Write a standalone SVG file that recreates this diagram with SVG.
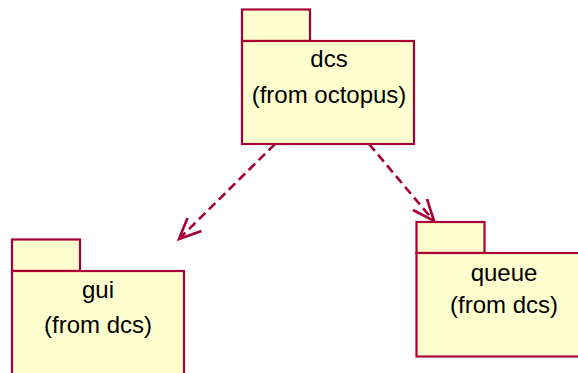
<svg xmlns="http://www.w3.org/2000/svg" width="578" height="373" viewBox="0 0 578 373">
  <style>
    .pkg { fill: #fefece; stroke: #a80036; stroke-width: 2.2; }
    .sep { stroke: #a80036; stroke-width: 1; fill: none; }
    .lbl { font-family: "Liberation Sans", Arial, sans-serif; font-size: 24px; fill: #000; text-anchor: middle; }
    .dep { stroke: #a80036; stroke-width: 2.6; fill: none; stroke-dasharray: 9 5; }
    .head { stroke: #a80036; stroke-width: 2.6; fill: none; stroke-linejoin: miter; }
  </style>
  <rect width="578" height="373" fill="#ffffff"/>

  <!-- package: dcs -->
  <g id="dcs">
    <rect class="pkg" x="242" y="9.5" width="68" height="31.5"/>
    <rect class="pkg" x="242" y="41" width="172" height="103"/>
    <line class="sep" x1="242" y1="41" x2="310" y2="41"/>
    <text class="lbl" x="329" y="66.5">dcs</text>
    <text class="lbl" x="329" y="103">(from octopus)</text>
  </g>

  <!-- package: gui -->
  <g id="gui">
    <rect class="pkg" x="12" y="239.5" width="68" height="31.5"/>
    <rect class="pkg" x="12" y="271" width="172" height="110"/>
    <line class="sep" x1="12" y1="271" x2="80" y2="271"/>
    <text class="lbl" x="98" y="298">gui</text>
    <text class="lbl" x="98" y="333">(from dcs)</text>
  </g>

  <!-- package: queue -->
  <g id="queue">
    <rect class="pkg" x="416.5" y="222" width="68" height="31"/>
    <rect class="pkg" x="416.5" y="253" width="172" height="103.5"/>
    <line class="sep" x1="416.5" y1="253" x2="484.5" y2="253"/>
    <text class="lbl" x="504" y="281">queue</text>
    <text class="lbl" x="504" y="313">(from dcs)</text>
  </g>

  <!-- dependencies -->
  <g id="connectors">
    <line class="dep" x1="275" y1="144" x2="180" y2="238"/>
    <polyline class="head" points="187.5,218 179,239 201.5,231"/>
    <line class="dep" x1="369" y1="144" x2="433" y2="220"/>
    <polyline class="head" points="427,199 434,221 413,210"/>
  </g>
</svg>
